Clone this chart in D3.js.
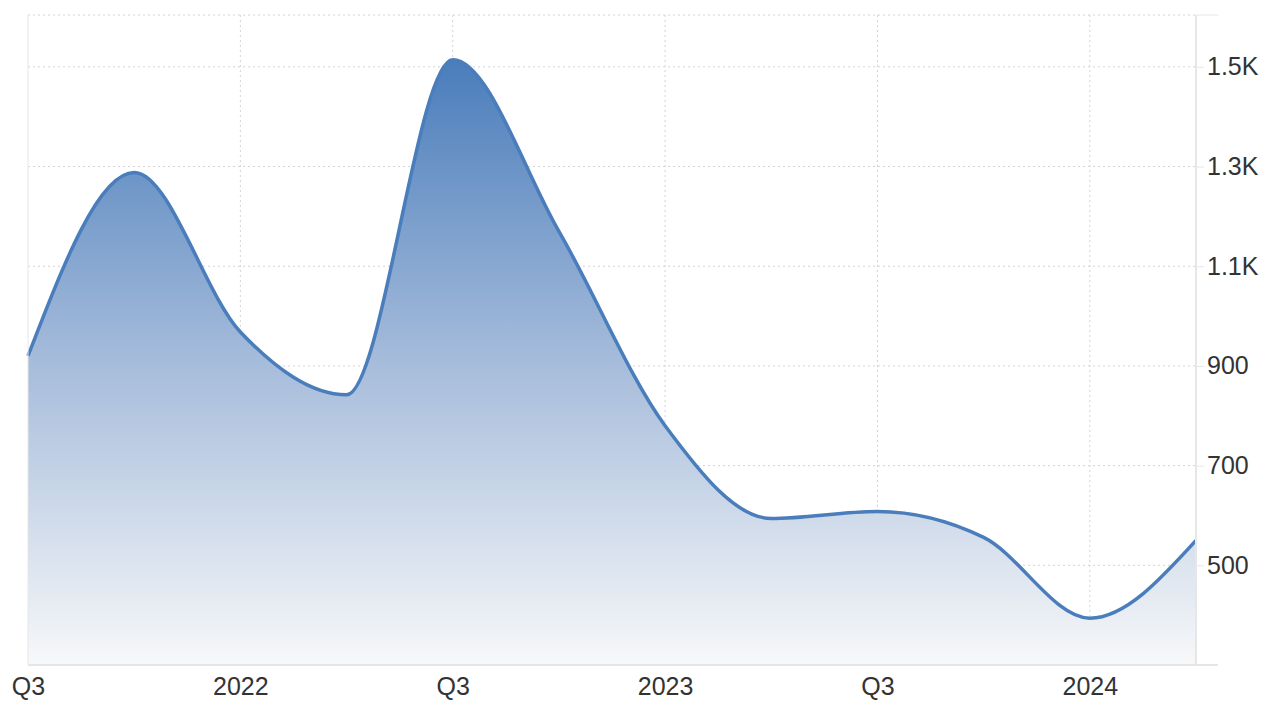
<!DOCTYPE html>
<html>
<head>
<meta charset="utf-8">
<script src="https://cdn.jsdelivr.net/npm/d3@7"></script>
<style>
  body { margin: 0; background: #fff; }
  text { font-family: "Liberation Sans", Arial, sans-serif; }
</style>
</head>
<body>
<div id="container"></div>
<script>
/* DATA */
const quarters = ["2021Q3", "2021Q4", "2022Q1", "2022Q2", "2022Q3", "2022Q4",
  "2023Q1", "2023Q2", "2023Q3", "2023Q4", "2024Q1", "2024Q2"]
const values = [920, 1288, 968, 842, 1514, 1170, 780, 594, 608, 556, 394, 550]
const xTickIdx = [0, 2, 4, 6, 8, 10]
const xTickLabels = ["Q3", "2022", "Q3", "2023", "Q3", "2024"]
const yTicks = [500, 700, 900, 1100, 1300, 1500]
const yTickLabels = ["500", "700", "900", "1.1K", "1.3K", "1.5K"]

/* CONSTANTS */
const width = 1268, height = 701,
  margin = { top: 15, bottom: 36, left: 28, right: 72 }

const data = quarters.map((q, i) => ({ i, q, v: values[i] }))

/* SCALES */
const xScale = d3.scaleLinear()
  .domain([0, quarters.length - 1])
  .range([margin.left, width - margin.right])

const yScale = d3.scaleLinear()
  .domain([300, 1604])
  .range([height - margin.bottom, margin.top])

const svg = d3.select("#container")
  .append("svg")
  .attr("width", width)
  .attr("height", height)

// gradient
const grad = svg.append("defs").append("linearGradient")
  .attr("id", "fill")
  .attr("gradientUnits", "userSpaceOnUse")
  .attr("x1", 0).attr("x2", 0)
  .attr("y1", yScale(1514)).attr("y2", yScale(300))
grad.append("stop").attr("offset", 0).attr("stop-color", "#4a7dbb")
grad.append("stop").attr("offset", 0.5).attr("stop-color", "#a6bcdb")
grad.append("stop").attr("offset", 1).attr("stop-color", "#f7f8f9")

// grid
svg.append("g")
  .selectAll("line")
  .data(yTicks.concat([1604]))
  .join("line")
  .attr("x1", margin.left).attr("x2", width - margin.right)
  .attr("y1", d => yScale(d)).attr("y2", d => yScale(d))
  .attr("stroke", "#d3d3d3")
  .attr("stroke-dasharray", "2,3")

svg.append("g")
  .selectAll("line")
  .data(xTickIdx.slice(1))
  .join("line")
  .attr("x1", d => xScale(d)).attr("x2", d => xScale(d))
  .attr("y1", margin.top).attr("y2", height - margin.bottom)
  .attr("stroke", "#d3d3d3")
  .attr("stroke-dasharray", "2,3")

// area + line
const area = d3.area()
  .curve(d3.curveMonotoneX)
  .x(d => xScale(d.i))
  .y0(yScale(300))
  .y1(d => yScale(d.v))

const line = d3.line()
  .curve(d3.curveMonotoneX)
  .x(d => xScale(d.i))
  .y(d => yScale(d.v))

svg.append("path")
  .datum(data)
  .attr("d", area)
  .attr("fill", "url(#fill)")

svg.append("path")
  .datum(data)
  .attr("d", line)
  .attr("fill", "none")
  .attr("stroke", "#4a7dbb")
  .attr("stroke-width", 3.5)

// frame
const right = width - margin.right, bottom = height - margin.bottom
svg.append("line")
  .attr("x1", margin.left).attr("x2", margin.left)
  .attr("y1", margin.top).attr("y2", bottom)
  .attr("stroke", "#e6e6e6")
svg.append("line")
  .attr("x1", right).attr("x2", right)
  .attr("y1", margin.top).attr("y2", bottom)
  .attr("stroke", "#e6e6e6").attr("stroke-width", 2)
svg.append("line")
  .attr("x1", margin.left).attr("x2", right + 22)
  .attr("y1", bottom).attr("y2", bottom)
  .attr("stroke", "#e6e6e6").attr("stroke-width", 2)
svg.append("line")
  .attr("x1", right).attr("x2", right + 22)
  .attr("y1", margin.top).attr("y2", margin.top)
  .attr("stroke", "#e6e6e6")

// y axis (right)
const yAxis = d3.axisRight(yScale)
  .tickValues(yTicks)
  .tickSize(8)
  .tickPadding(3)
  .tickFormat((d, i) => yTickLabels[i])

svg.append("g")
  .attr("transform", `translate(${right},0)`)
  .call(yAxis)
  .call(g => g.select(".domain").remove())
  .call(g => g.selectAll(".tick line").attr("stroke", "#e6e6e6"))
  .call(g => g.selectAll(".tick text")
    .attr("fill", "#333")
    .style("font-size", "25px"))

// x axis
const xAxis = d3.axisBottom(xScale)
  .tickValues(xTickIdx)
  .tickSize(0)
  .tickPadding(12)
  .tickFormat((d, i) => xTickLabels[i])

svg.append("g")
  .attr("transform", `translate(0,${bottom})`)
  .call(xAxis)
  .call(g => g.select(".domain").remove())
  .call(g => g.selectAll(".tick text")
    .attr("fill", "#333")
    .style("font-size", "25px"))
</script>
</body>
</html>
